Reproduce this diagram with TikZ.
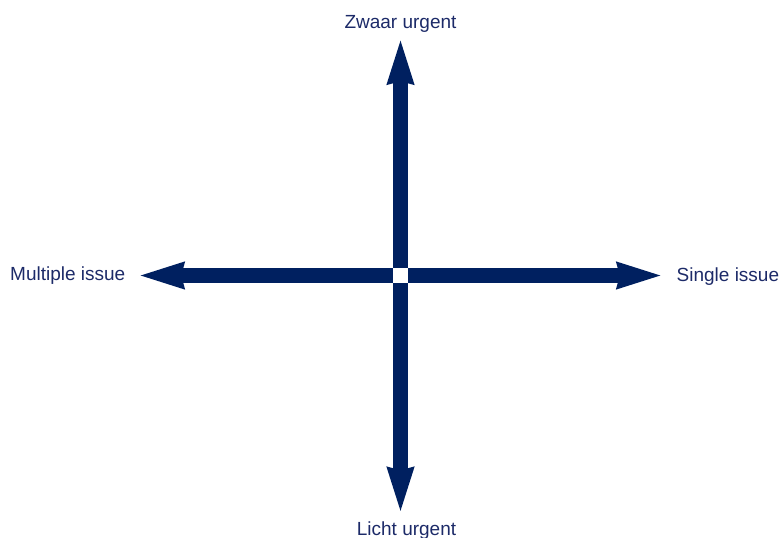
\documentclass[tikz,border=0pt]{standalone}
\usepackage{fontspec}
\setmainfont{Liberation Sans}
\usetikzlibrary{arrows.meta}
\definecolor{axnavy}{RGB}{0,32,96}
\definecolor{axtext}{RGB}{28,42,104}

\begin{document}
\begin{tikzpicture}[x=1pt,y=-1pt,
      lbl/.style={inner sep=0pt,text=axtext,font=\fontsize{19}{22}\selectfont},
      axarrow/.style={draw=axnavy,line width=14.5pt,line cap=butt,
        -{Stealth[length=45pt,width=24pt,inset=1.5pt]}}]
    \useasboundingbox (0,0) rectangle (782,538);
    % centre and tips
    \coordinate (c) at (400.5,275.5);
    \coordinate (ctop) at (400.5,267.7);
    \coordinate (cbot) at (400.5,283.3);
    \coordinate (cleft) at (392.7,275.5);
    \coordinate (cright) at (408.3,275.5);
    \coordinate (ttop) at (400.5,37.5);
    \coordinate (tbot) at (400.5,514);
    \coordinate (tleft) at (137.5,275.5);
    \coordinate (tright) at (663.5,275.5);
    % labels
    \node[lbl,anchor=base] (zwaar) at (400.5,28) {Zwaar urgent};
    \node[lbl,anchor=base] (licht) at (406.5,535) {Licht urgent};
    \node[lbl,anchor=base west] (multi) at (10,280.5) {Multiple issue};
    \node[lbl,anchor=base west] (single) at (676.5,281.5) {Single issue};
    % arrows
    \draw[axarrow] (ctop)--(ttop);
    \draw[axarrow] (cbot)--(tbot);
    \draw[axarrow] (cleft)--(tleft);
    \draw[axarrow] (cright)--(tright);
\end{tikzpicture}
\end{document}
